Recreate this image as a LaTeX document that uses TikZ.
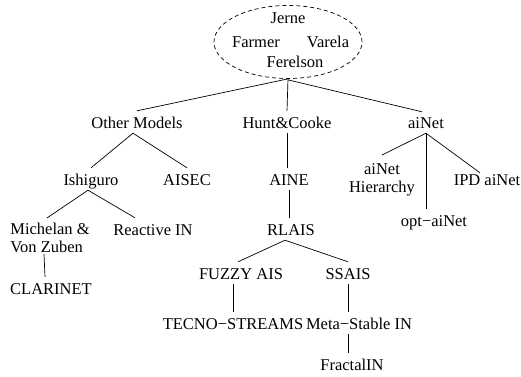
\documentclass[tikz,border=0pt]{standalone}
\usepackage{fontspec}
\setmainfont{Liberation Serif}
\usepackage{tikz}
\usetikzlibrary{positioning,shapes.geometric}

\begin{document}
\begin{tikzpicture}[x=1pt, y=-1pt,
    every node/.style={font=\fontsize{16.5}{18}\selectfont},
    box/.style={inner xsep=2pt, inner ysep=3pt},
    model/.style={box, anchor=base, text height=14pt, text depth=2pt},
    link/.style={line width=0.7pt}]
    \useasboundingbox (0,0) rectangle (521,376);
    % the root: an ellipse round the four names
    \node[draw, ellipse, dashed, dash pattern=on 4pt off 3pt, line width=0.7pt,
          minimum width=148pt, minimum height=73pt] (root) at (288,42) {};
    \node[anchor=base] (jerne) at (288,23) {Jerne};
    \node[anchor=base] (farmer) at (256,47) {Farmer};
    \node[anchor=base] (varela) at (328,47) {Varela};
    \node[anchor=base] (ferelson) at (295,67) {Ferelson};
    % first level
    \node[model] (other) at (137,128) {Other Models};
    \node[model] (hunt) at (287,128) {Hunt\&Cooke};
    \node[model] (ainet) at (426,128) {aiNet};
    % second level
    \node[model] (ishiguro) at (91,185) {Ishiguro};
    \node[model] (aisec) at (187,185) {AISEC};
    \node[model] (aine) at (289,185) {AINE};
    \node[box, align=center, anchor=north] (hier) at (382,160) {aiNet\\Hierarchy};
    \node[model] (ipd) at (487,185) {IPD aiNet};
    \node[model] (opt) at (434,226) {opt\textminus aiNet};
    % third level
    \node[box, align=left, anchor=north] (mich) at (50,220) {Michelan \&\\Von Zuben};
    \node[model] (reactive) at (153,235) {Reactive IN};
    \node[model] (rlais) at (291,235) {RLAIS};
    \node[model] (clarinet) at (51,294) {CLARINET};
    % under RLAIS
    \node[model] (fuzzy) at (241,279) {FUZZY AIS};
    \node[model] (ssais) at (348,279) {SSAIS};
    \node[model] (tecno) at (233,329) {TECNO\textminus STREAMS};
    \node[model] (meta) at (359,329) {Meta\textminus Stable IN};
    \node[model] (fractal) at (352,370) {FractalIN};

    \draw[link] (root.south) -- (other.north);
    \draw[link] (root.south) -- (hunt.north);
    \draw[link] ([yshift=-1pt]root.south) -- ([xshift=-4pt, yshift=-1pt]ainet.north);
    \draw[link] ([xshift=-4pt]other.south) -- (ishiguro.north);
    \draw[link] ([xshift=-4pt]other.south) -- (aisec.north);
    \draw[link] (hunt.south) -- (hunt.south |- aine.north);
    \draw[link] (ainet.south) -- ([yshift=5pt]hier.north);
    \draw[link] (ainet.south) -- ([xshift=-7pt, yshift=-5pt]ipd.north);
    \draw[link] (ainet.south) -- (ainet.south |- opt.north);
    \draw[link] ([xshift=-3pt]ishiguro.south) -- ([xshift=-3pt, yshift=2pt]mich.north);
    \draw[link] ([xshift=-3pt]ishiguro.south) -- ([xshift=-18pt]reactive.north);
    \draw[link] ([xshift=-6pt, yshift=2pt]mich.south) -- ([xshift=-6pt]clarinet.north);
    \draw[link] (aine.south) -- (aine.south |- rlais.north);
    \draw[link] ([xshift=-6pt]rlais.south) -- ([xshift=-3pt]fuzzy.north);
    \draw[link] ([xshift=-6pt]rlais.south) -- (ssais.north);
    \draw[link] (tecno.north |- fuzzy.south) -- (tecno.north);
    \draw[link] (ssais.south) -- (ssais.south |- meta.north);
    \draw[link] (ssais.south |- meta.south) -- (ssais.south |- fractal.north);
\end{tikzpicture}
\end{document}
